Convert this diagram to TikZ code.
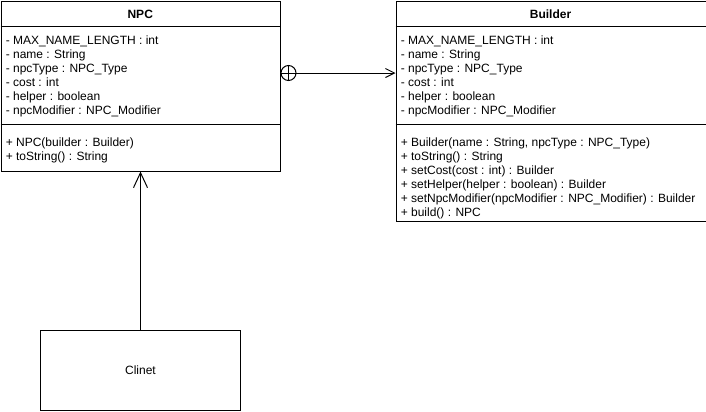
\documentclass[tikz,border=0pt]{standalone}
\usepackage{fontspec}
\setmainfont{Liberation Sans}
\usetikzlibrary{arrows.meta}

\begin{document}
\begin{tikzpicture}[x=0.75pt,y=0.75pt,yscale=-1,xscale=1,
  classbox/.style={draw, line width=0.75pt, inner sep=0pt},
  titletext/.style={font=\fontsize{9pt}{10.5pt}\selectfont\bfseries, inner sep=0pt, anchor=base},
  membertext/.style={font=\fontsize{9pt}{10.5pt}\selectfont, align=left, inner sep=0pt, anchor=base west},
  uline/.style={line width=0.75pt}
]
%uncomment if require: \path (0,411); %set diagram left start at 0, and has height of 411
\useasboundingbox (0,0) rectangle (706,411);

%Shape: Class [id:npc]
\draw (0.5,0.5) node (npc) [classbox, anchor=north west, minimum width=209.625pt, minimum height=127.5pt] {};
\draw [uline] ([yshift=19.5pt]npc.north west) -- ([yshift=19.5pt]npc.north east) ;
\draw [uline] ([yshift=93pt]npc.north west) -- ([yshift=93pt]npc.north east) ;
%Shape: Class [id:builder]
\draw (395.5,0.5) node (bld) [classbox, anchor=north west, minimum width=232.5pt, minimum height=165pt] {};
\draw [uline] ([yshift=19.5pt]bld.north west) -- ([yshift=19.5pt]bld.north east) ;
\draw [uline] ([yshift=93pt]bld.north west) -- ([yshift=93pt]bld.north east) ;
%Shape: Rectangle [id:clinet]
\draw (140.5,370.5) node (clinet) [classbox, minimum width=150pt, minimum height=60pt, font=\fontsize{9pt}{10.5pt}\selectfont] {Clinet};

%Shape: Nesting circle
\draw (288.5,73) node (nest) [circle, draw, uline, inner sep=0pt, minimum size=11.25pt] {};
\draw [uline] (nest.north) -- (nest.south) ;

%Straight Lines [id:nesting]
\draw [uline, -{Straight Barb[length=6.75pt,width=6.75pt]}] (nest.west) -- (nest.west -| bld.west) ;
%Straight Lines [id:dependency]
\draw [uline, -{Straight Barb[length=11.25pt,width=10.5pt]}] (clinet.north) -- (clinet.north |- npc.south) ;

% Text Node (base = last line)
\draw (140.25,18.5) node (npctitle) [titletext] {NPC};
% Text Node
\draw (550.5,18.5) node (bldtitle) [titletext] {Builder};
% Text Node
\draw (5.5,114) node (npcattr) [membertext] {- MAX\_NAME\_LENGTH : int\\- name : String\\- npcType : NPC\_Type\\- cost : int\\- helper : boolean\\- npcModifier : NPC\_Modifier};
% Text Node
\draw (5.5,160.5) node (npcops) [membertext] {+ NPC(builder : Builder)\\+ toString() : String};
% Text Node
\draw (400.5,114) node (bldattr) [membertext] {- MAX\_NAME\_LENGTH : int\\- name : String\\- npcType : NPC\_Type\\- cost : int\\- helper : boolean\\- npcModifier : NPC\_Modifier};
% Text Node
\draw (400.5,216.5) node (bldops) [membertext] {+ Builder(name : String, npcType : NPC\_Type)\\+ toString() : String\\+ setCost(cost : int) : Builder\\+ setHelper(helper : boolean) : Builder\\+ setNpcModifier(npcModifier : NPC\_Modifier) : Builder\\+ build() : NPC};
\end{tikzpicture}
\end{document}
